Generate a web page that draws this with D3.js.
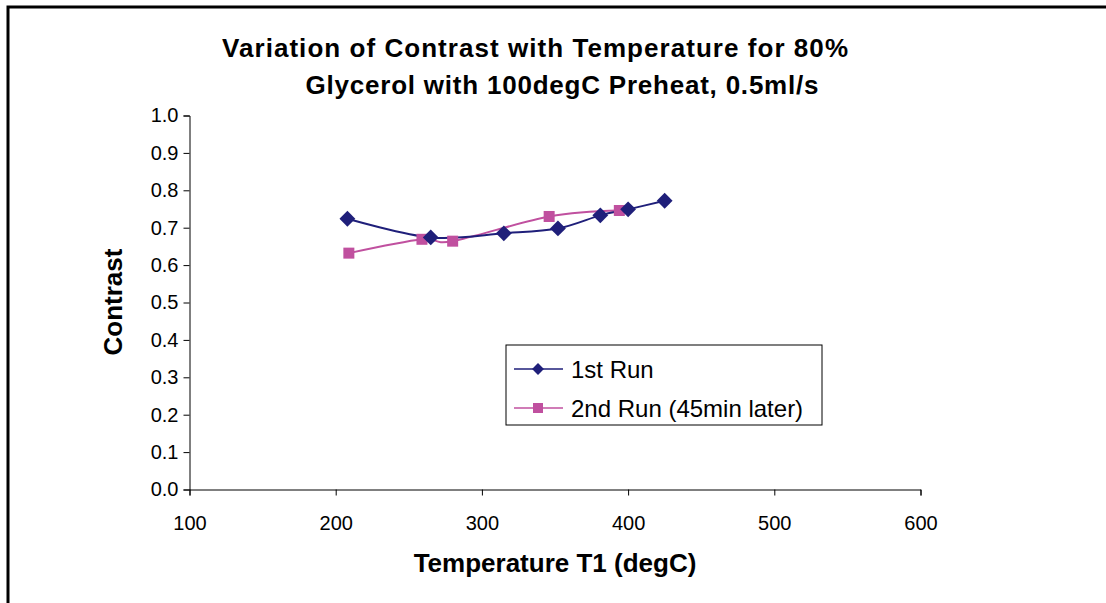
<!DOCTYPE html>
<html>
<head>
<meta charset="UTF-8">
<title>Contrast vs Temperature</title>
<style>
  html, body { margin: 0; padding: 0; background: #fff; }
  svg { display: block; font-family: "Liberation Sans", Arial, sans-serif; }
</style>
</head>
<body>
<svg width="1106" height="603"></svg>
<script src="https://d3js.org/d3.v7.min.js"></script>
<script>
// data
var run1Temp = [208, 265, 315, 352, 381, 400, 425];
var run1Contrast = [0.724, 0.674, 0.685, 0.698, 0.733, 0.749, 0.772];
var run2Temp = [209, 259, 280, 346, 394];
var run2Contrast = [0.632, 0.669, 0.664, 0.730, 0.746];
var xTicks = [100, 200, 300, 400, 500, 600];
var yTicks = [0, 0.1, 0.2, 0.3, 0.4, 0.5, 0.6, 0.7, 0.8, 0.9, 1.0];
var seriesNames = ["1st Run", "2nd Run (45min later)"];
var colors = ["#1f1f7a", "#c0509f"];

var svg = d3.select("svg");
var font = "Liberation Sans, Arial, sans-serif";

// outer chart border (only left and top visible)
svg.append("path")
  .attr("d", "M8,603 L8,7 L1106,7")
  .attr("fill", "none")
  .attr("stroke", "#000")
  .attr("stroke-width", 3);

var x = d3.scaleLinear().domain([100, 600]).range([189.5, 920.5]);
var y = d3.scaleLinear().domain([0, 1]).range([489.5, 115.5]);

// axes
var xAxis = svg.append("g")
  .attr("transform", "translate(0,489.5)")
  .call(d3.axisBottom(x).tickValues(xTicks).tickFormat(d3.format("d")).tickSizeOuter(0).tickSize(6));
xAxis.attr("font-size", 20).attr("font-family", font);
xAxis.selectAll("text").attr("y", 26).attr("dy", "0.71em");

var yAxis = svg.append("g")
  .attr("transform", "translate(189.5,0)")
  .call(d3.axisLeft(y).tickValues(yTicks).tickFormat(d3.format(".1f")).tickSizeOuter(0).tickSize(6));
yAxis.attr("font-size", 20).attr("font-family", font);
yAxis.selectAll("text").attr("x", -11);

svg.selectAll(".domain, .tick line").attr("stroke", "#000");

// titles
var title = svg.append("text")
  .attr("font-weight", "bold").attr("font-size", 26).attr("text-anchor", "middle");
title.append("tspan").attr("x", 535).attr("y", 57)
  .attr("textLength", 626).attr("lengthAdjust", "spacing")
  .text("Variation of Contrast with Temperature for 80%");
title.append("tspan").attr("x", 562).attr("y", 94)
  .attr("textLength", 513).attr("lengthAdjust", "spacing")
  .text("Glycerol with 100degC Preheat, 0.5ml/s");

svg.append("text")
  .attr("font-weight", "bold").attr("font-size", 26).attr("text-anchor", "middle")
  .attr("x", 555).attr("y", 572)
  .text("Temperature T1 (degC)");

svg.append("text")
  .attr("font-weight", "bold").attr("font-size", 26).attr("text-anchor", "middle")
  .attr("transform", "translate(122,302) rotate(-90)")
  .text("Contrast");

// series
var series = [
  run1Temp.map(function (t, i) { return { t: t, c: run1Contrast[i] }; }),
  run2Temp.map(function (t, i) { return { t: t, c: run2Contrast[i] }; })
];

var line = d3.line()
  .x(function (d) { return x(d.t); })
  .y(function (d) { return y(d.c); })
  .curve(d3.curveCatmullRom.alpha(0));

var diamond = d3.symbol().type(d3.symbolDiamond2).size(160);

// draw second run first so the first run sits on top where they overlap
[1, 0].forEach(function (k) {
  svg.append("path")
    .datum(series[k])
    .attr("d", line)
    .attr("fill", "none")
    .attr("stroke", colors[k])
    .attr("stroke-width", 2);
});
[1, 0].forEach(function (k) {
  var g = svg.append("g");
  if (k === 0) {
    g.selectAll("path").data(series[k]).enter().append("path")
      .attr("d", diamond)
      .attr("transform", function (d) { return "translate(" + x(d.t) + "," + y(d.c) + ")"; })
      .attr("fill", colors[k]);
  } else {
    g.selectAll("rect").data(series[k]).enter().append("rect")
      .attr("x", function (d) { return x(d.t) - 5.5; })
      .attr("y", function (d) { return y(d.c) - 5.5; })
      .attr("width", 11).attr("height", 11)
      .attr("fill", colors[k]);
  }
});

// legend
var legend = svg.append("g").attr("transform", "translate(506,345)");
legend.append("rect")
  .attr("width", 316).attr("height", 80)
  .attr("fill", "#fff").attr("stroke", "#000").attr("stroke-width", 1);

seriesNames.forEach(function (name, k) {
  var ly = 24 + k * 39;
  legend.append("line")
    .attr("x1", 8).attr("x2", 57).attr("y1", ly).attr("y2", ly)
    .attr("stroke", colors[k]).attr("stroke-width", 1.5);
  if (k === 0) {
    legend.append("path")
      .attr("d", d3.symbol().type(d3.symbolDiamond2).size(90))
      .attr("transform", "translate(32," + ly + ")")
      .attr("fill", colors[k]);
  } else {
    legend.append("rect")
      .attr("x", 27).attr("y", ly - 5).attr("width", 10).attr("height", 10)
      .attr("fill", colors[k]);
  }
  legend.append("text")
    .attr("x", 65).attr("y", ly + 9)
    .attr("font-size", 24)
    .text(name);
});
</script>
</body>
</html>
